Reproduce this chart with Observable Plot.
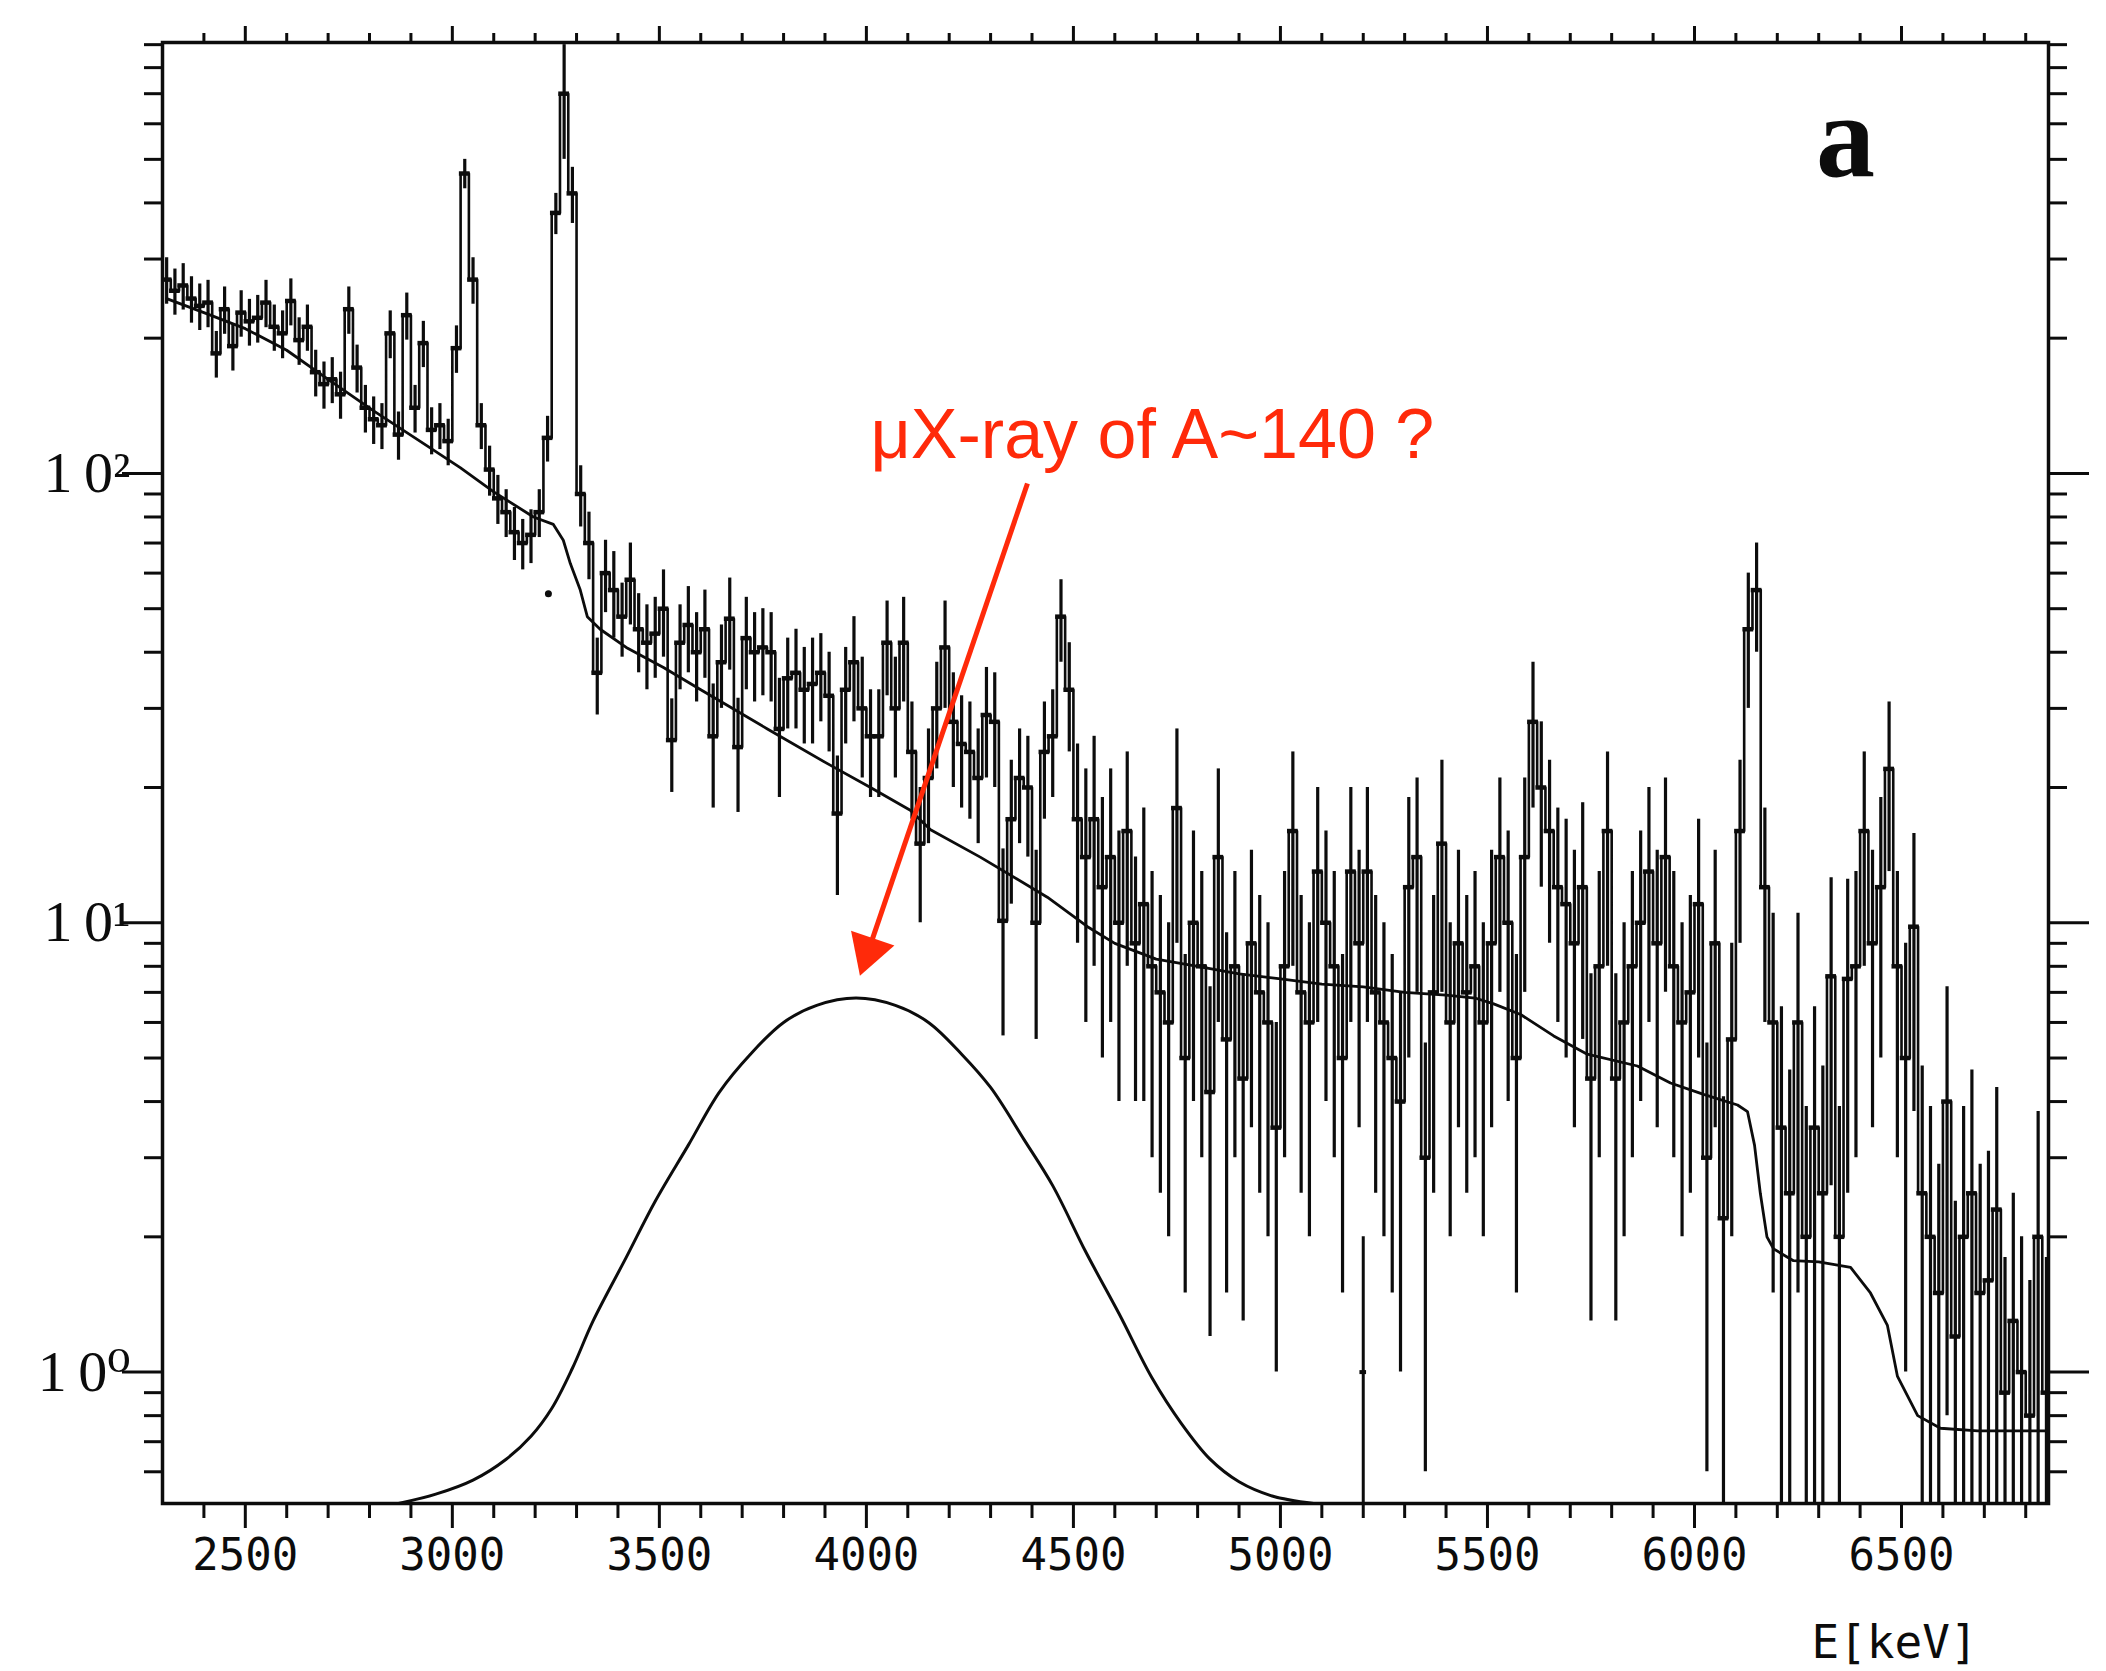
<!DOCTYPE html>
<html><head><meta charset="utf-8">
<script src="https://cdn.jsdelivr.net/npm/d3@7"></script>
<script src="https://cdn.jsdelivr.net/npm/@observablehq/plot@0.6"></script>
<style>
html,body{margin:0;padding:0;background:#fff;}
#chart svg{display:block;overflow:visible;}
</style></head><body><div id="chart"></div>
<script>
// ---- measured spectrum (bin centre keV, counts, 1-sigma error) ----
const energy = [
2310,2330,2350,2370,2390,2410,2430,2450,2470,2490,
2510,2530,2550,2570,2590,2610,2630,2650,2670,2690,
2710,2730,2750,2770,2790,2810,2830,2850,2870,2890,
2910,2930,2950,2970,2990,3010,3030,3050,3070,3090,
3110,3130,3150,3170,3190,3210,3230,3250,3270,3290,
3310,3330,3350,3370,3390,3410,3430,3450,3470,3490,
3510,3530,3550,3570,3590,3610,3630,3650,3670,3690,
3710,3730,3750,3770,3790,3810,3830,3850,3870,3890,
3910,3930,3950,3970,3990,4010,4030,4050,4070,4090,
4110,4130,4150,4170,4190,4210,4230,4250,4270,4290,
4310,4330,4350,4370,4390,4410,4430,4450,4470,4490,
4510,4530,4550,4570,4590,4610,4630,4650,4670,4690,
4710,4730,4750,4770,4790,4810,4830,4850,4870,4890,
4910,4930,4950,4970,4990,5010,5030,5050,5070,5090,
5110,5130,5150,5170,5190,5210,5230,5250,5270,5290,
5310,5330,5350,5370,5390,5410,5430,5450,5470,5490,
5510,5530,5550,5570,5590,5610,5630,5650,5670,5690,
5710,5730,5750,5770,5790,5810,5830,5850,5870,5890,
5910,5930,5950,5970,5990,6010,6030,6050,6070,6090,
6110,6130,6150,6170,6190,6210,6230,6250,6270,6290,
6310,6330,6350,6370,6390,6410,6430,6450,6470,6490,
6510,6530,6550,6570,6590,6610,6630,6650,6670,6690,
6710,6730,6750,6770,6790,6810,6830,6850];
const counts = [
270,255,262,245,236,240,185,232,192,228,
218,222,240,212,205,242,198,212,168,158,
162,150,232,172,140,132,128,205,122,225,
140,195,125,128,118,190,465,270,128,102,
88,82,74,70,73,82,120,380,700,420,
90,70,36,60,55,48,58,45,42,44,
50,25.5,42,46,40,45,26,38,47.5,24.6,
43,40,41,40,27,35,36,33,34,36,
32,17.5,33,38,30,26,26,42,30,42,
24,15,21,30,41,28,25,24,21,29,
28,10.1,17,21,20,10,24,26,48,33,
17,14,17,12,14,10,16,9,11,8,
7,6,18,5,10,8,4.2,14,5.5,8,
4.5,9,7,6,3.5,8,16,7,6,13,
10,8,5,13,9,13,7,6,5,4,
12,14,3,7,15,6,9,7,8,6,
9,14,10,5,14,28,20,16,12,11,
9,12,4.5,8,16,4.5,6,8,10,13,
9,14,8,6,7,11,3.0,9,2.2,5.5,
16,45,55,12,6,3.5,2.5,6,2.0,3.5,
2.5,7.6,2.0,7.5,8,16,9,12,22,8,
5,9.8,2.5,2.0,1.5,4.0,1.2,2.0,2.5,1.5,
1.6,2.3,0.9,1.3,1.0,0.8,2.0,0.9];
const errors = [
32,30,31,29,28,29,22,28,23,27,
26,27,29,25,25,29,24,25,20,19,
19,18,28,21,17,16,15,25,15,27,
17,23,15,15,14,23,35,32,15,13,
11,10,10,9,10,10,14,40,200,60,
14,12,7,11,12,9,12,9,9,9,
11,6,9,10,9,10,8,8,11,7,
10,9,9,9,8,8,9,8,9,8,
8,6,8,10,9,7,7,10,9,11,
7,5,6,8,11,8,7,7,6,8,
8,4.5,6,6,6,4.5,7,7,10,9,
8,8,9,7,8,6,8,5,7,5,
4.5,4,9,3.5,6,5,3,8,4,5,
3.2,5.5,4.5,4,2.5,5,8,4.5,4,7,
6,5,3.5,7,5.5,7,4.5,4,3.5,3,
7,7,2.4,4.5,8,4,5.5,4.5,5,4,
5.5,7,6,3.5,7,10,8,7,6,6,
5.5,6.5,3.2,5,8,3.2,4,5,6,7,
5.5,7,5,4,4.5,6,2.4,5.5,1.9,3.5,
7,15,15,6,4.5,3,2.2,4.5,1.9,3,
2.3,5,1.9,5,5,8,5.5,7,9,5,
4,6,2.3,1.9,1.4,3.2,1.2,1.9,2.2,1.4,
1.5,2.0,0.9,1.2,1.0,0.8,1.8,0.9];

// ---- smooth background curve ----
const bgEnergy = [2310,2400,2500,2600,2700,2809,2940,3019,3100,3196,3244,3268,3285,3309,3326,3357,3420,3510,3600,3761,3906,4010,4106,4155,4275,4437,4534,4600,4700,4800,4900,5000,5100,5200,5300,5400,5470,5515,5580,5660,5741,5862,5942,6022,6104,6128,6145,6159,6175,6191,6239,6300,6377,6425,6466,6490,6539,6594,6684,6850];
const bgLevel  = [245,228,210,188,162,138,115,103,91,80,77,71,63,55,48,45,41,37,33,27,22.6,20,17.8,16.1,14,11.4,9.8,9.0,8.3,8.0,7.7,7.5,7.3,7.2,7.0,6.9,6.8,6.6,6.25,5.6,5.1,4.8,4.4,4.15,3.93,3.8,3.2,2.5,2.0,1.88,1.77,1.76,1.71,1.5,1.27,0.98,0.80,0.75,0.74,0.74];

// ---- expected muonic X-ray line shape ----
const gaussEnergy = [2870,2960,3050,3130,3190,3240,3290,3340,3420,3490,3570,3645,3720,3800,3880,3975,4070,4150,4230,4300,4380,4450,4530,4610,4690,4760,4830,4900,4980,5080];
const gaussLevel  = [0.51,0.535,0.575,0.64,0.72,0.83,1.02,1.3,1.8,2.4,3.2,4.2,5.1,6.0,6.55,6.8,6.55,6.0,5.1,4.3,3.3,2.6,1.85,1.35,0.97,0.77,0.64,0.57,0.53,0.51];

// ---- isolated points ----
const loneEnergy = [5200], loneCount = [1.0], loneErr = [1.0];
const strayEnergy = [3232], strayCount = [54];

// ---- ticks and texts ----
const xMajorTicks = [2500,3000,3500,4000,4500,5000,5500,6000,6500];
const xMinorTicks = [2400,2600,2700,2800,2900,3100,3200,3300,3400,3600,3700,3800,3900,4100,4200,4300,4400,4600,4700,4800,4900,5100,5200,5300,5400,5600,5700,5800,5900,6100,6200,6300,6400,6600,6700,6800];
const yMajorTicks = [1,10,100];
const yMinorTicks = [0.6,0.7,0.8,0.9,2,3,4,5,6,7,8,9,20,30,40,50,60,70,80,90,200,300,400,500,600,700,800,900];
const yTickLabels = {1:"1\u20090\u2070", 10:"1\u20090\u00b9", 100:"1\u20090\u00b2"};
const annotationText = "\u03bcX-ray of A~140 ?";
const annotationAt = {E: 4010, v: 108.5};
const arrowFrom = {E: 4389, v: 95};
const arrowTo = {E: 4005, v: 8.67};
const panelLabel = {text: "a", E: 6365, v: 460};
const axisLabel = "E[keV]";

const spectrum = energy.map((E, i) => ({E, v: counts[i], lo: Math.max(counts[i] - errors[i], 0.05), hi: counts[i] + errors[i]}));
const bg = bgEnergy.map((E, i) => ({E, v: bgLevel[i]}));
const gauss = gaussEnergy.map((E, i) => ({E, v: gaussLevel[i]}));
const lone = loneEnergy.map((E, i) => ({E, v: loneCount[i], lo: Math.max(loneCount[i] - loneErr[i], 0.05), hi: loneCount[i] + loneErr[i]}));
const stray = strayEnergy.map((E, i) => ({E, v: strayCount[i]}));

const ink = "#0c0c0c";
const red = "#ff2a0a";
const blank = () => "";

const chart = Plot.plot({
  width: 2106, height: 1671,
  marginLeft: 162, marginRight: 58, marginTop: 42, marginBottom: 168,
  x: {type: "linear", domain: [2300, 6855]},
  y: {type: "log", domain: [0.51, 910]},
  style: {background: "white", color: ink, fontFamily: "'DejaVu Sans Mono', monospace"},
  marks: [
    Plot.axisX({anchor: "bottom", ticks: xMajorTicks, tickSize: 25, tickPadding: 10, fontSize: 44, fontFamily: "'DejaVu Sans Mono', monospace", strokeWidth: 3, label: null, tickFormat: d => String(d)}),
    Plot.axisX({anchor: "bottom", ticks: xMinorTicks, tickSize: 15, strokeWidth: 3, label: null, tickFormat: blank}),
    Plot.axisX({anchor: "top", ticks: xMajorTicks, tickSize: 17, strokeWidth: 3, label: null, tickFormat: blank}),
    Plot.axisX({anchor: "top", ticks: xMinorTicks, tickSize: 10, strokeWidth: 3, label: null, tickFormat: blank}),
    Plot.axisY({anchor: "left", ticks: yMajorTicks, tickSize: 40, tickPadding: -8, fontSize: 58, fontFamily: "'Liberation Serif', 'DejaVu Serif', serif", strokeWidth: 3, label: null, tickFormat: d => yTickLabels[d]}),
    Plot.axisY({anchor: "left", ticks: yMinorTicks, tickSize: 18, strokeWidth: 3, label: null, tickFormat: blank}),
    Plot.axisY({anchor: "right", ticks: yMajorTicks, tickSize: 40, strokeWidth: 3, label: null, tickFormat: blank}),
    Plot.axisY({anchor: "right", ticks: yMinorTicks, tickSize: 18, strokeWidth: 3, label: null, tickFormat: blank}),

    Plot.ruleX(spectrum, {x: "E", y1: "lo", y2: "hi", stroke: ink, strokeWidth: 3.2, clip: true}),
    Plot.line(spectrum, {x: "E", y: "v", curve: "step", stroke: ink, strokeWidth: 2.6, clip: true}),
    Plot.ruleY(spectrum, {y: "v", x1: d => d.E - 13, x2: d => d.E + 13, stroke: ink, strokeWidth: 4.5, clip: true}),
    Plot.line(bg, {x: "E", y: "v", stroke: ink, strokeWidth: 2.8, clip: true}),
    Plot.line(gauss, {x: "E", y: "v", curve: "catmull-rom", stroke: ink, strokeWidth: 3, clip: true}),
    Plot.ruleX(lone, {x: "E", y1: "lo", y2: "hi", stroke: ink, strokeWidth: 3, clip: true}),
    Plot.ruleY(lone, {y: "v", x1: d => d.E - 8, x2: d => d.E + 8, stroke: ink, strokeWidth: 4}),
    Plot.dot(stray, {x: "E", y: "v", r: 3.5, fill: ink, stroke: null}),

    Plot.link([{from: arrowFrom, to: arrowTo}], {x1: d => d.from.E, y1: d => d.from.v, x2: d => d.to.E, y2: d => d.to.v, stroke: red, strokeWidth: 5}),
    Plot.dot([arrowTo], {x: "E", y: "v", symbol: "triangle", r: 17, fill: red, stroke: null, rotate: 198.8}),
    Plot.text([annotationAt], {x: "E", y: "v", text: () => annotationText, textAnchor: "start", lineAnchor: "bottom", fill: red, fontSize: 70, fontFamily: "'Liberation Sans', Arial, Helvetica, sans-serif"}),
    Plot.text([panelLabel], {x: "E", y: "v", text: "text", textAnchor: "middle", lineAnchor: "bottom", fill: ink, fontSize: 118, fontWeight: "bold", fontFamily: "'Liberation Serif', 'DejaVu Serif', serif"}),
    Plot.text([axisLabel], {frameAnchor: "bottom-right", text: d => d, textAnchor: "middle", lineAnchor: "bottom", dx: -154, dy: 154, fontSize: 46, fontFamily: "'DejaVu Sans Mono', monospace", fill: ink}),
    Plot.frame({stroke: ink, strokeWidth: 3.5})
  ]
});
document.getElementById("chart").appendChild(chart);
</script>
</body></html>
